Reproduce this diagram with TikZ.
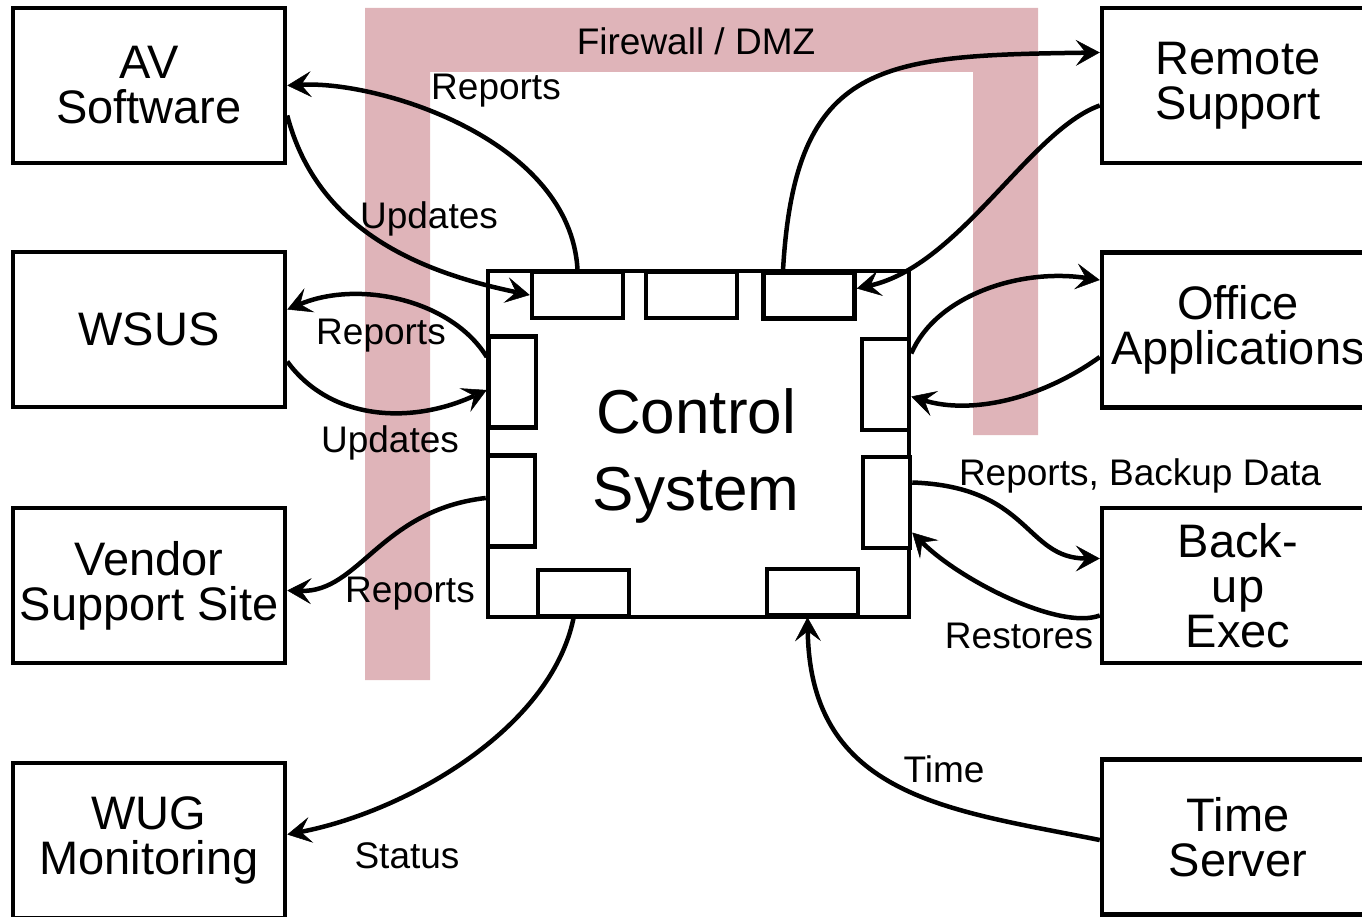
\documentclass[tikz,border=0pt]{standalone}
\usepackage{fontspec}
\setmainfont{Liberation Sans}
\usetikzlibrary{arrows.meta}
\definecolor{firewallColor}{RGB}{223,180,185}

\begin{document}
\begin{tikzpicture}[
    x=1pt, y=-1pt,
    box/.style={draw, line width=4.5pt, minimum width=272pt, minimum height=155pt, inner sep=0pt, align=center, font=\fontsize{47}{45}\selectfont},
    port/.style={draw, fill=white, line width=4.5pt, inner sep=0pt},
    hport/.style={port, minimum width=91pt, minimum height=46pt},
    vport/.style={port, minimum width=47pt, minimum height=91pt},
    lbl/.style={inner sep=0pt, font=\fontsize{37}{40}\selectfont},
    arrow/.style={line width=4.5pt, -{Stealth[length=24pt, width=26pt, inset=10pt, line width=0.5pt]}}
]
    \useasboundingbox (0,0) rectangle (1362,917);

    % firewall band
    \fill[firewallColor] (365,680) -- (365,8) -- (1038,8) -- (1038,435) -- (973,435) -- (973,72) -- (430,72) -- (430,680) -- cycle;
    \node[lbl] (fw) at (696,41) {Firewall / DMZ};

    \node[box] (av) at (149,85.5) {AV\\Software};
    \node[box] (wsus) at (149,329.5) {WSUS};
    \node[box] (vendor) at (149,585.5) {Vendor\\Support Site};
    \node[box] (wug) at (149,840.5) {WUG\\Monitoring};
    \node[box] (remote) at (1238,85.5) {Remote\\Support};
    \node[box] (office) at (1238,330) {Office\\Applications};
    \node[box] (backup) at (1238,585.5) {Back-\\up\\Exec};
    \node[box] (timesrv) at (1238,837) {Time\\Server};

    \node[draw, line width=4.5pt, minimum width=421pt, minimum height=346pt] (ctrl) at (698.5,444) {};
    \node[align=center, inner sep=0pt, font=\fontsize{62}{77}\selectfont] (ctrlLabel) at (696,456) {Control\\System};
    \node[hport] (top1) at (577.5,295) {};
    \node[hport] (top2) at (691.5,295) {};
    \node[hport] (top3) at (809,295.5) {};
    \node[vport] (L1) at (512.5,382) {};
    \node[vport] (L2) at (511.5,501) {};
    \node[vport] (R1) at (885.5,384.5) {};
    \node[vport] (R2) at (886.5,502.5) {};
    \node[hport] (B1) at (583.5,593) {};
    \node[hport] (B2) at (812.5,592) {};

    \draw[arrow] (top1.north) .. controls +(-7,-130) and +(92,-5) .. (av.east);
    \draw[arrow] ([yshift=-30pt]av.east) .. controls +(30,115) and +(-110,-23) .. (top1.west);
    \draw[arrow] ([yshift=25pt]L1.west) .. controls +(-35,-57) and +(72,-30) .. ([yshift=20pt]wsus.east);
    \draw[arrow] ([yshift=-32pt]wsus.east) .. controls +(43,59) and +(-76,35) .. ([yshift=-8pt]L1.west);
    \draw[arrow] ([yshift=3pt]L2.west) .. controls +(-105,12) and +(72,2) .. ([yshift=-5pt]vendor.east);
    \draw[arrow] ([xshift=-10pt]B1.south) .. controls +(-23,111) and +(119,-23) .. ([yshift=6pt]wug.east);
    \draw[arrow] ([yshift=-3pt]timesrv.west) .. controls +(-150,-30) and +(3,180) .. ([xshift=-5pt]B2.south);
    \draw[arrow] ([xshift=-26pt]top3.north) .. controls +(12,-210) and +(-219,3) .. ([yshift=33pt]remote.west);
    \draw[arrow] ([yshift=-20pt]remote.west) .. controls +(-70,25) and +(103,-23) .. ([yshift=7pt]top3.east);
    \draw[arrow] ([yshift=31pt]R1.east) .. controls +(25,-58) and +(-80,-12) .. ([yshift=50pt]office.west);
    \draw[arrow] ([yshift=-27pt]office.west) .. controls +(-60,43) and +(59,18) .. ([yshift=-12pt]R1.east);
    \draw[arrow] ([yshift=20pt]R2.east) .. controls +(118,4) and +(-75,0) .. ([yshift=27pt]backup.west);
    \draw[arrow] ([yshift=-30pt]backup.west) .. controls +(-40,15) and +(48,48) .. ([yshift=-30pt]R2.east);

    \node[lbl] (rpAV) at (496,91) {Reports};
    \node[lbl] (upAV) at (429,219) {Updates};
    \node[lbl] (rpWSUS) at (381,336) {Reports};
    \node[lbl] (upWSUS) at (390,443) {Updates};
    \node[lbl] (rpVendor) at (410,594) {Reports};
    \node[lbl] (status) at (407,856) {Status};
    \node[lbl] (time) at (944,769) {Time};
    \node[lbl] (rpBackup) at (1140,476) {Reports, Backup Data};
    \node[lbl] (restores) at (1019,636) {Restores};
\end{tikzpicture}
\end{document}
